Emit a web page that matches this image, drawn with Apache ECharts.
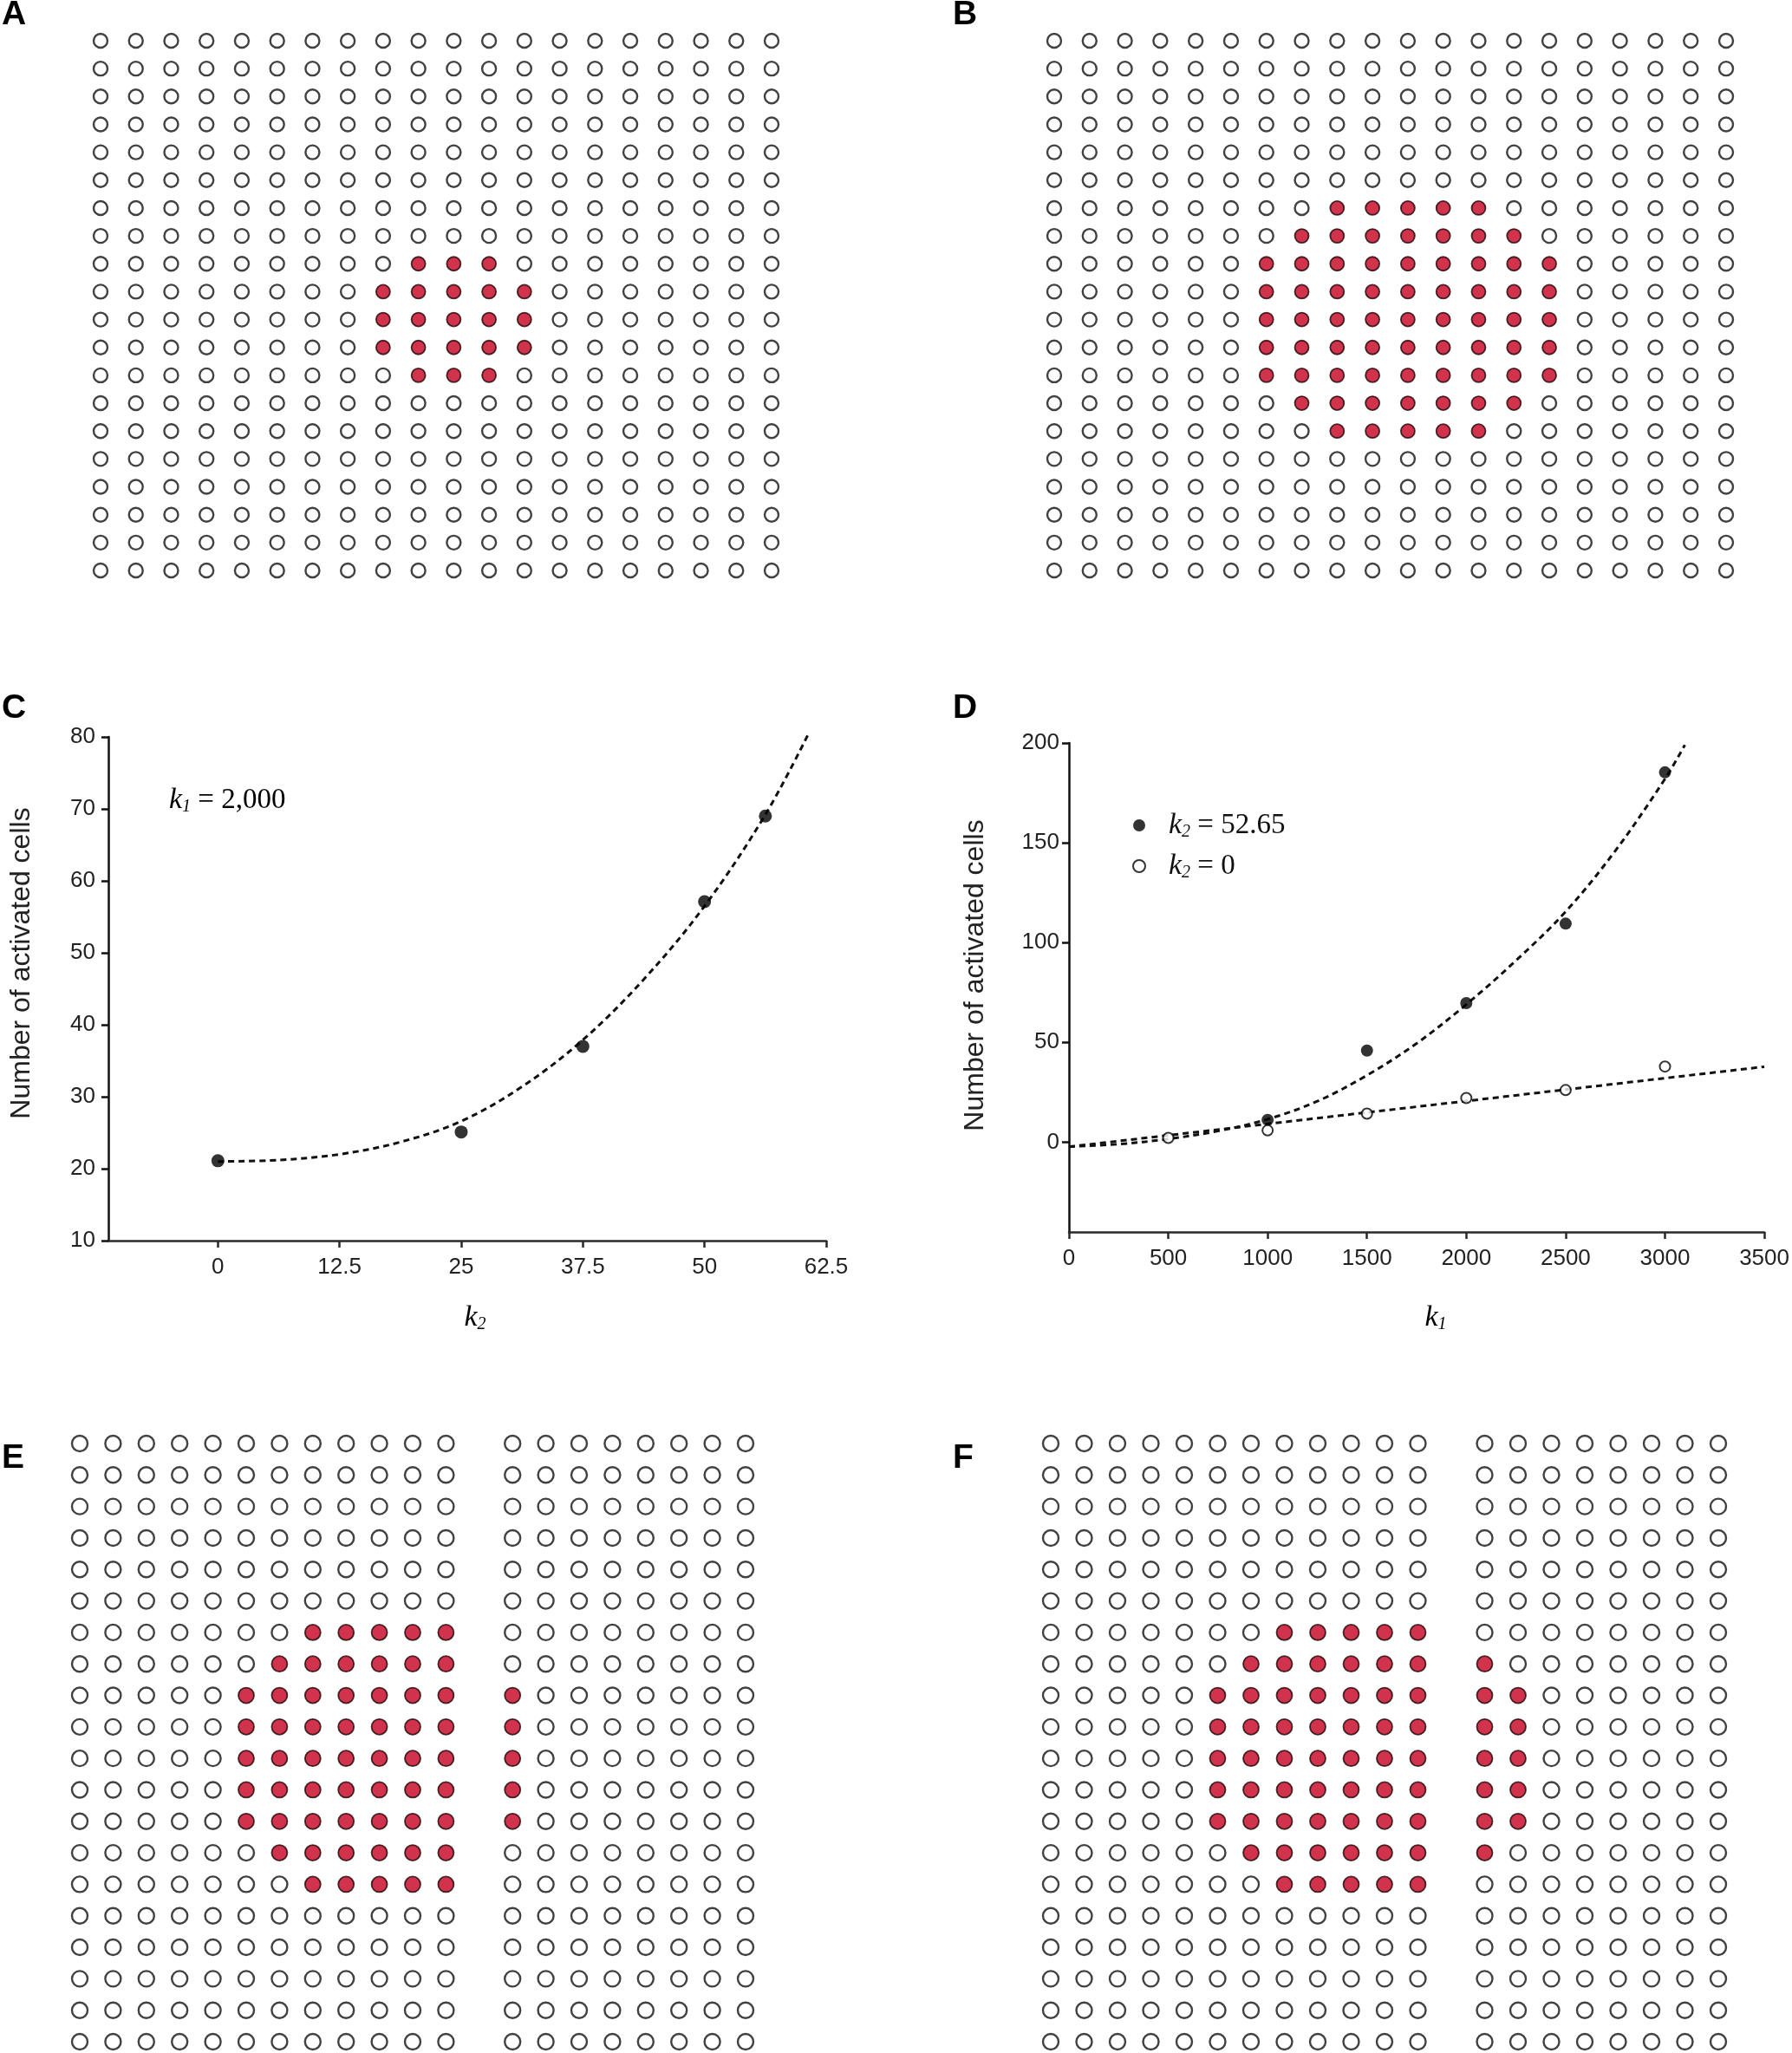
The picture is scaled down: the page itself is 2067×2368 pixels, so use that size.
<!DOCTYPE html>
<html><head><meta charset="utf-8">
<script src="https://cdn.jsdelivr.net/npm/echarts@6/dist/echarts.min.js"></script>
<style>html,body{margin:0;padding:0;background:#fff}#c{width:2067px;height:2368px}</style>
</head><body><div id="c"></div>
<script>
// ---------------- DATA ----------------
const panelLabels = ['A', 'B', 'C', 'D', 'E', 'F'];

// cell lattices: rows x columns; active cells given as [row, firstCol, lastCol]
const latticeRows = 20;
const latticeColsAB = 20;
const latticeColsEF = 21;
const gapColumnEF = 12;            // empty column separating the two blocks in E and F
const activeA = [[8,9,11],[9,8,12],[10,8,12],[11,8,12],[12,9,11]];
const activeB = [[6,8,12],[7,7,13],[8,6,14],[9,6,14],[10,6,14],[11,6,14],[12,6,14],[13,7,13],[14,8,12]];
const activeE = [[6,7,11],[7,6,11],[8,5,11],[8,13,13],[9,5,11],[9,13,13],[10,5,11],[10,13,13],
                 [11,5,11],[11,13,13],[12,5,11],[12,13,13],[13,6,11],[14,7,11]];
const activeF = [[6,7,11],[7,6,11],[7,13,13],[8,5,11],[8,13,14],[9,5,11],[9,13,14],[10,5,11],[10,13,14],
                 [11,5,11],[11,13,14],[12,5,11],[12,13,14],[13,6,11],[13,13,13],[14,7,11]];

// panel C
const cK2 = [0, 25, 37.5, 50, 56.25];
const cCells = [21.1, 25.1, 37, 57.1, 69];
const cFitK2 = [0, 6.25, 12.5, 18.75, 25, 31.25, 37.5, 43.75, 50, 56.25, 60.7];
const cFitCells = [21, 21.2, 22.0, 23.7, 26.6, 31.4, 37.9, 46.3, 56.5, 69.2, 80.5];
const cXTicks = [0, 12.5, 25, 37.5, 50, 62.5];

// panel D
const dK1High = [1000, 1500, 2000, 2500, 3000];
const dCellsHigh = [11.2, 45.9, 69.7, 109.5, 185.3];
const dK1Zero = [500, 1000, 1500, 2000, 2500, 3000];
const dCellsZero = [2.1, 5.9, 14.3, 22.1, 26.1, 37.9];
const dFitHighK1 = [0, 250, 500, 750, 1000, 1250, 1500, 1750, 2000, 2250, 2500, 2750, 3000, 3100];
const dFitHighCells = [-2.2, -1.0, 1.6, 5.6, 11.5, 20.5, 33.5, 49.5, 69, 91, 115.5, 146, 182, 199];
const dFitZeroK1 = [0, 3500];
const dFitZeroCells = [-2.3, 37.8];
const dYTicks = [0, 50, 100, 150, 200];
const dLegendValues = ['52.65', '0'];

// ---------------- HELPERS ----------------
function zip(a, b) { return a.map((v, i) => [v, b[i]]); }
function lattice(cols, rows, active, gapCol) {
  const on = [], off = [];
  for (let r = 0; r < rows; r++) {
    for (let c = 0; c < cols; c++) {
      if (c === gapCol) continue;
      const hit = active.some(a => a[0] === r && c >= a[1] && c <= a[2]);
      (hit ? on : off).push([c, r]);
    }
  }
  return { on, off };
}

const SANS = '"Liberation Sans", Arial, sans-serif';
const SERIF = '"Liberation Serif", "Times New Roman", serif';
const RED = '#c4001e';
const AX = '#2a2a2a';

const lat = [
  { data: lattice(latticeColsAB, latticeRows, activeA, -1), cols: latticeColsAB, box: { left: 116, top: 47, width: 774, height: 611 }, size: 16 },
  { data: lattice(latticeColsAB, latticeRows, activeB, -1), cols: latticeColsAB, box: { left: 1216, top: 47, width: 775, height: 611 }, size: 16 },
  { data: lattice(latticeColsEF, latticeRows, activeE, gapColumnEF), cols: latticeColsEF, box: { left: 92, top: 1665, width: 768, height: 690 }, size: 18 },
  { data: lattice(latticeColsEF, latticeRows, activeF, gapColumnEF), cols: latticeColsEF, box: { left: 1212, top: 1665, width: 770, height: 690 }, size: 18 }
];

const grids = [], xAxes = [], yAxes = [], series = [];
lat.forEach((p, i) => {
  grids.push(p.box);
  xAxes.push({ gridIndex: i, type: 'value', min: 0, max: p.cols - 1, show: false });
  yAxes.push({ gridIndex: i, type: 'value', min: 0, max: latticeRows - 1, inverse: true, show: false });
  series.push({ type: 'scatter', xAxisIndex: i, yAxisIndex: i, data: p.data.off, symbol: 'circle', symbolSize: p.size, clip: false,
    itemStyle: { color: '#fff', borderColor: '#111', borderWidth: 2.4 }, silent: true });
  series.push({ type: 'scatter', xAxisIndex: i, yAxisIndex: i, data: p.data.on, symbol: 'circle', symbolSize: p.size, clip: false,
    itemStyle: { color: RED, borderColor: '#1a0505', borderWidth: 1.8 }, silent: true });
});

// Panel C -> grid 4, Panel D -> grid 5
const labelStyle = { fontFamily: SANS, fontSize: 26, color: '#222' };
grids.push({ left: 125, top: 850, width: 828, height: 581 });
grids.push({ left: 1233, top: 857, width: 806, height: 564 });

xAxes.push({ gridIndex: 4, type: 'value', min: -11.25, max: 62.5,
  axisLine: { show: true, onZero: false, lineStyle: { color: AX, width: 2.5 } },
  axisTick: { show: true, customValues: cXTicks, length: 8, lineStyle: { color: AX, width: 2.5 } },
  axisLabel: Object.assign({ customValues: cXTicks, margin: 18, formatter: v => String(v) }, labelStyle),
  splitLine: { show: false } });
yAxes.push({ gridIndex: 4, type: 'value', min: 10, max: 80, interval: 10,
  axisLine: { show: true, onZero: false, lineStyle: { color: '#111', width: 2.5 } },
  axisTick: { show: true, length: 8, lineStyle: { color: '#111', width: 2.5 } },
  axisLabel: Object.assign({ margin: 15, formatter: v => String(v) }, labelStyle),
  splitLine: { show: false } });

xAxes.push({ gridIndex: 5, type: 'value', min: 0, max: 3500, interval: 500,
  axisLine: { show: true, onZero: false, lineStyle: { color: AX, width: 2.5 } },
  axisTick: { show: true, length: 8, lineStyle: { color: AX, width: 2.5 } },
  axisLabel: Object.assign({ margin: 18, showMaxLabel: true, formatter: v => String(v) }, labelStyle),
  splitLine: { show: false } });
yAxes.push({ gridIndex: 5, type: 'value', min: -45, max: 200,
  axisLine: { show: true, onZero: false, lineStyle: { color: '#111', width: 2.5 } },
  axisTick: { show: true, customValues: dYTicks, length: 8, lineStyle: { color: '#111', width: 2.5 } },
  axisLabel: Object.assign({ customValues: dYTicks, margin: 11, formatter: v => String(v) }, labelStyle),
  splitLine: { show: false } });

const dash = { color: '#111', width: 3, type: [7, 5] };
series.push({ type: 'line', xAxisIndex: 4, yAxisIndex: 4, data: zip(cFitK2, cFitCells), smooth: 0.35,
  showSymbol: false, symbol: 'none', clip: false, lineStyle: dash, z: 2, silent: true });
series.push({ type: 'scatter', xAxisIndex: 4, yAxisIndex: 4, data: zip(cK2, cCells), symbol: 'circle', symbolSize: 15,
  itemStyle: { color: '#000' }, z: 3, silent: true });

const nameHigh = 'k2 = ' + dLegendValues[0];
const nameZero = 'k2 = ' + dLegendValues[1];
series.push({ type: 'line', xAxisIndex: 5, yAxisIndex: 5, data: zip(dFitHighK1, dFitHighCells), smooth: 0.35,
  showSymbol: false, symbol: 'none', clip: false, lineStyle: dash, z: 2, silent: true });
series.push({ type: 'line', xAxisIndex: 5, yAxisIndex: 5, data: zip(dFitZeroK1, dFitZeroCells),
  showSymbol: false, symbol: 'none', clip: false, lineStyle: dash, z: 2, silent: true });
series.push({ name: nameHigh, type: 'scatter', xAxisIndex: 5, yAxisIndex: 5, data: zip(dK1High, dCellsHigh), symbol: 'circle', symbolSize: 14,
  itemStyle: { color: '#000' }, z: 3, silent: true });
series.push({ name: nameZero, type: 'scatter', xAxisIndex: 5, yAxisIndex: 5, data: zip(dK1Zero, dCellsZero), symbol: 'circle', symbolSize: 12,
  itemStyle: { color: '#fff', borderColor: '#000', borderWidth: 2 }, z: 3, silent: true });

const kRich = {
  k: { fontFamily: SERIF, fontStyle: 'italic', fontSize: 34, color: '#111' },
  s: { fontFamily: SERIF, fontStyle: 'italic', fontSize: 20, color: '#111', padding: [16, 0, 0, 0] },
  t: { fontFamily: SERIF, fontSize: 33, color: '#111' },
  g: { width: 22 }
};

// graphic texts
const labelPos = [[2, -2], [1099, -2], [2, 798], [1099, 798], [2, 1663], [1099, 1663]];
const graphic = panelLabels.map((t, i) => ({
  type: 'text', x: labelPos[i][0], y: labelPos[i][1], silent: true,
  style: { text: t, font: 'bold 39px ' + SANS, fill: '#000', textAlign: 'left', textVerticalAlign: 'top' }
}));
graphic.push({ type: 'text', x: 25, y: 1111, rotation: Math.PI / 2, silent: true,
  style: { text: 'Number of activated cells', font: '32px ' + SANS, fill: '#222', textAlign: 'center', textVerticalAlign: 'middle' } });
graphic.push({ type: 'text', x: 1125, y: 1125, rotation: Math.PI / 2, silent: true,
  style: { text: 'Number of activated cells', font: '32px ' + SANS, fill: '#222', textAlign: 'center', textVerticalAlign: 'middle' } });
graphic.push({ type: 'text', x: 548, y: 1520, silent: true,
  style: { text: '{k|k}{s|2}', rich: kRich, textAlign: 'center', textVerticalAlign: 'middle' } });
graphic.push({ type: 'text', x: 1656, y: 1520, silent: true,
  style: { text: '{k|k}{s|1}', rich: kRich, textAlign: 'center', textVerticalAlign: 'middle' } });
graphic.push({ type: 'text', x: 195, y: 923, silent: true,
  style: { text: '{k|k}{s|1}{t| = 2,000}', rich: kRich, textAlign: 'left', textVerticalAlign: 'middle' } });

const chart = echarts.init(document.getElementById('c'), null, { renderer: 'canvas' });
chart.setOption({
  animation: false,
  backgroundColor: '#fff',
  grid: grids,
  xAxis: xAxes,
  yAxis: yAxes,
  legend: {
    show: true, orient: 'vertical', left: 1301, top: 930, itemWidth: 14, itemHeight: 14, itemGap: 12,
    selectedMode: false, data: [nameHigh, nameZero],
    formatter: function (name) { return '{g|}{k|k}{s|2}{t| = ' + name.split('= ')[1] + '}'; },
    textStyle: { rich: kRich }
  },
  series: series,
  graphic: graphic
});
</script>
</body></html>
